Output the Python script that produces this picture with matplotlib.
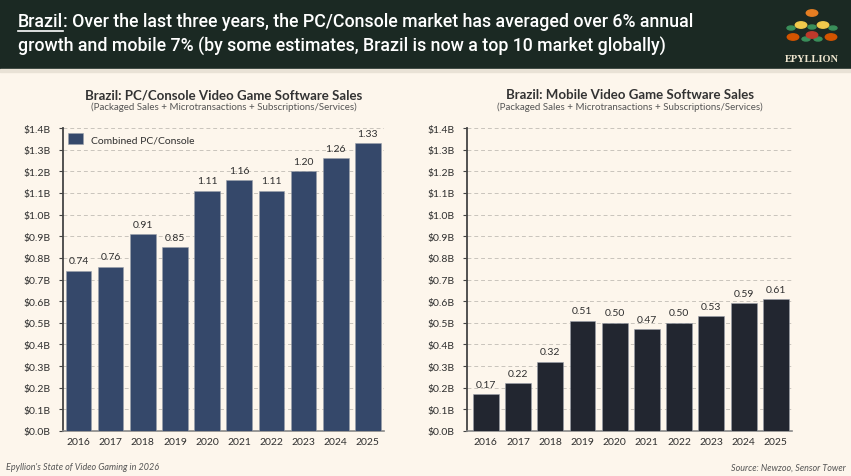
import matplotlib
matplotlib.use("Agg")
import matplotlib.pyplot as plt
from matplotlib.patches import Rectangle, Circle, Ellipse

# --- data ---
years = ["2016", "2017", "2018", "2019", "2020", "2021", "2022", "2023", "2024", "2025"]
pc_console = [0.74, 0.76, 0.91, 0.85, 1.11, 1.16, 1.11, 1.20, 1.26, 1.33]
mobile = [0.17, 0.22, 0.32, 0.51, 0.50, 0.47, 0.50, 0.53, 0.59, 0.61]
y_ticks = [i / 10 for i in range(15)]
y_labels = [f"${v:.1f}B" for v in y_ticks]

BG = "#fdf6ec"
HEADER = "#1b2923"
PC_COLOR = "#35486a"
MOB_COLOR = "#222630"
TXT = "#2f2f2f"

head_font = "Roboto"
plt.rcParams["font.family"] = ["Lato", "DejaVu Sans"]

W, H = 851, 477
fig = plt.figure(figsize=(W / 100, H / 100), dpi=100, facecolor=BG)

# шапка
fig.patches.append(Rectangle((0, 1 - 70 / H), 1, 70 / H, transform=fig.transFigure,
                             color=HEADER, zorder=0))
fig.patches.append(Rectangle((0, 1 - 73 / H), 1, 3 / H, transform=fig.transFigure,
                             color="#e9e2d6", zorder=0))

HS = 12.8
line1_a = fig.text(18 / W, 1 - 22 / H, "Brazil", color="white", fontsize=HS,
                   fontweight="medium", family=head_font, va="center")
fig.canvas.draw()
r = fig.canvas.get_renderer()
bb = line1_a.get_window_extent(r)
fig.text(bb.x1 / W, 1 - 22 / H,
         ": Over the last three years, the PC/Console market has averaged over 6% annual",
         color="white", fontsize=HS, fontweight="medium", family=head_font, va="center")
fig.lines.append(plt.Line2D([bb.x0 / W, bb.x1 / W], [(bb.y0 - 1) / H] * 2,
                            transform=fig.transFigure, color="white", lw=1.2))
fig.text(18 / W, 1 - 47 / H,
         "growth and mobile 7% (by some estimates, Brazil is now a top 10 market globally)",
         color="white", fontsize=HS, fontweight="medium", family=head_font, va="center")

# логотип (упрощённый орнамент)
cx, cy = 812, 26
for dx, dy, c in [(-11, 0, "#f2c94c"), (11, 0, "#f2c94c"), (0, 10, "#c0392b"),
                  (-19, 12, "#d35400"), (19, 12, "#d35400"), (0, -12, "#e67e22")]:
    fig.patches.append(Circle(((cx + dx) / W, 1 - (cy + dy) / H), 3.2 / H,
                              transform=fig.transFigure, color=c, zorder=2))
for dx, dy in [(-6, 14), (6, 14), (-21, 3), (21, 3), (0, 2)]:
    fig.patches.append(Ellipse(((cx + dx) / W, 1 - (cy + dy) / H), 8 / W, 4 / H,
                               transform=fig.transFigure, color="#3a8f5a", zorder=1))
fig.text(cx / W, 1 - 59 / H, "EPYLLION", color="#efe6cf", fontsize=7.5,
         fontweight="bold", family="Liberation Serif", ha="center", va="center")


def draw_panel(rect, values, color, title, xlim, legend=None):
    ax = fig.add_axes(rect)
    ax.set_facecolor(BG)
    x = range(len(years))
    ax.bar(x, values, width=0.8, color=color, edgecolor="#9aa0aa",
           linewidth=0.4, zorder=3, label=legend)
    for xi, v in zip(x, values):
        ax.text(xi, v + 0.025, f"{v:.2f}", ha="center", va="bottom",
                fontsize=7.5, color=TXT)
    ax.set_ylim(0, 1.4)
    ax.set_xlim(*xlim)
    ax.set_yticks(y_ticks)
    ax.set_yticklabels(y_labels, fontsize=7.5, color=TXT)
    ax.set_xticks(list(x))
    ax.set_xticklabels(years, fontsize=7.5, color=TXT)
    ax.tick_params(axis="x", length=0, pad=4)
    ax.tick_params(axis="y", length=3, width=0.8, color="#444", pad=6)
    ax.grid(axis="y", color="#c9c4bc", linestyle=(0, (4, 3)), linewidth=0.7, zorder=0)
    for s in ["top", "right"]:
        ax.spines[s].set_visible(False)
    ax.spines["left"].set_color("#444444")
    ax.spines["left"].set_linewidth(1.3)
    ax.spines["bottom"].set_color("#888888")
    ax.spines["bottom"].set_linewidth(1.2)
    if legend:
        ax.legend(loc="upper left", frameon=False, fontsize=7.5, handlelength=1.4,
                  handleheight=1.2, borderaxespad=0.1, labelcolor=TXT)
    cxf = rect[0] + rect[2] / 2
    fig.text(cxf, 1 - 95 / H, title, ha="center", va="center", fontsize=9.5,
             fontweight="bold", color="#333333")
    fig.text(cxf, 1 - 107 / H,
             "(Packaged Sales + Microtransactions + Subscriptions/Services)",
             ha="center", va="center", fontsize=7, color="#555555")
    return ax


ax1 = draw_panel([63 / W, 45 / H, 321 / W, 303 / H], pc_console, PC_COLOR,
                 "Brazil: PC/Console Video Game Software Sales", (-0.48, 9.5),
                 legend="Combined PC/Console")
ax2 = draw_panel([467 / W, 45 / H, 325 / W, 303 / H], mobile, MOB_COLOR,
                 "Brazil: Mobile Video Game Software Sales", (-0.58, 9.5))

fig.text(6 / W, 1 - 468 / H, "Epyllion's State of Video Gaming in 2026", fontsize=6.5,
         style="italic", color="#555555", va="center")
fig.text(846 / W, 1 - 468 / H, "Source: Newzoo, Sensor Tower", fontsize=6.5,
         style="italic", color="#555555", va="center", ha="right")

fig.savefig("out.png", dpi=100, facecolor=BG)
